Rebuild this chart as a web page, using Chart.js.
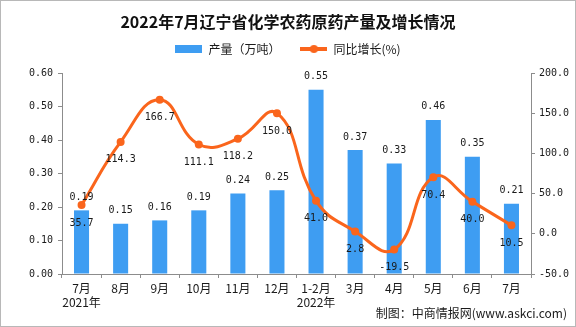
<!DOCTYPE html>
<html><head><meta charset="utf-8">
<script src="https://cdn.jsdelivr.net/npm/chart.js@4/dist/chart.umd.min.js"></script>
<style>html,body{margin:0;padding:0;background:#fff}#wrap{width:576px;height:327px;position:relative}</style>
</head><body><div id="wrap"><canvas id="c"></canvas></div>
<script>
const categories = [["7月","2021年"],"8月","9月","10月","11月","12月",["1-2月","2022年"],"3月","4月","5月","6月","7月"];
const production = [0.19,0.15,0.16,0.19,0.24,0.25,0.55,0.37,0.33,0.46,0.35,0.21];
const growth = [35.7,114.3,166.7,111.1,118.2,150.0,41.0,2.8,-19.5,70.4,40.0,10.5];
const seriesNames = ["产量（万吨）","同比增长(%)"];
const titleText = "2022年7月辽宁省化学农药原药产量及增长情况";
const footerText = "制图：中商情报网(www.askci.com)";

const BAR = '#3E9DF2', LINE = '#FA651C', AXIS = '#8c8c8c', TXT = '#1a1a1a';
const NUMFONT = '"DejaVu Sans Mono"';
const CJK = '"Noto Sans CJK SC"';

function makeIcon(kind){
  const c = document.createElement('canvas');
  c.width = 27; c.height = kind === 'bar' ? 8 : 10;
  const x = c.getContext('2d');
  if (kind === 'bar') { x.fillStyle = BAR; x.fillRect(0,0,27,8); }
  else {
    x.strokeStyle = LINE; x.lineWidth = 4; x.beginPath(); x.moveTo(0,5); x.lineTo(27,5); x.stroke();
    x.fillStyle = LINE; x.beginPath(); x.arc(13.5,5,4,0,Math.PI*2); x.fill();
  }
  return c;
}
const barIcon = makeIcon('bar'), lineIcon = makeIcon('line');

const labelPlugin = {
  id: 'labels',
  afterDatasetsDraw(chart){
    const ctx = chart.ctx;
    ctx.save();
    ctx.font = '10px ' + NUMFONT;
    ctx.fillStyle = TXT;
    ctx.textAlign = 'center';
    ctx.textBaseline = 'middle';
    chart.getDatasetMeta(0).data.forEach((el,i)=>{
      ctx.fillText(production[i].toFixed(2), el.x, el.y - 13);
    });
    chart.getDatasetMeta(1).data.forEach((el,i)=>{
      ctx.fillText(growth[i].toFixed(1), el.x, el.y + 18);
    });
    ctx.restore();
  }
};
const framePlugin = {
  id: 'frame',
  beforeDraw(chart){
    const ctx = chart.ctx; ctx.save(); ctx.fillStyle = '#fff'; ctx.fillRect(0,0,chart.width,chart.height); ctx.restore();
  },
  afterDraw(chart){
    const ctx = chart.ctx; ctx.save();
    ctx.strokeStyle = '#b8b8b8'; ctx.lineWidth = 1;
    ctx.strokeRect(0.5,0.5,chart.width-1,chart.height-1);
    ctx.font = '12px ' + CJK; ctx.fillStyle = TXT; ctx.textAlign = 'right'; ctx.textBaseline = 'middle';
    ctx.fillText(footerText, 567, 313);
    ctx.restore();
  }
};

new Chart(document.getElementById('c'), {
  type: 'bar',
  data: {
    labels: categories,
    datasets: [
      { type:'bar', label: seriesNames[0], data: production, backgroundColor: BAR, yAxisID:'y', order:1,
        barPercentage:0.385, categoryPercentage:1 },
      { type:'line', label: seriesNames[1], data: growth, borderColor: LINE, backgroundColor: LINE, borderWidth:3,
        pointRadius:4, pointBackgroundColor: LINE, pointBorderWidth:0, tension:0.45, yAxisID:'y1', order:0 }
    ]
  },
  plugins: [labelPlugin, framePlugin],
  options: {
    responsive:true, maintainAspectRatio:false, devicePixelRatio:1, animation:false,
    layout:{ padding:{left:0,right:0,top:0,bottom:0} },
    plugins:{
      tooltip:{enabled:false},
      title:{ display:true, text:titleText, color:'#111', font:{family:CJK, size:16, weight:'bold', lineHeight:0.125}, padding:{top:21,bottom:0} },
      subtitle:{ display:true, text:'', weight:500, font:{size:1, lineHeight:1}, padding:{top:0,bottom:7} },
      legend:{ display:true, position:'top',
        labels:{ usePointStyle:true, pointStyleWidth:27, boxHeight:8, padding:20, color:TXT,
          font:{family:CJK, size:12},
          sort:(a,b)=>a.datasetIndex-b.datasetIndex,
          generateLabels(chart){
            const items = Chart.defaults.plugins.legend.labels.generateLabels(chart);
            items.forEach(it=>{ it.pointStyle = it.datasetIndex === 0 ? barIcon : lineIcon; });
            return items;
          } } }
    },
    scales:{
      x:{ grid:{display:true, drawOnChartArea:false, drawTicks:true, tickLength:4, color:AXIS},
          border:{color:AXIS},
          ticks:{font:{family:CJK, size:12}, color:TXT, padding:3, maxRotation:0, autoSkip:false},
          afterFit(s){ s.height = 53; } },
      y:{ position:'left', min:0, max:0.6,
          ticks:{stepSize:0.1, callback:v=>Number(v).toFixed(2), font:{family:NUMFONT, size:10}, color:TXT, padding:5},
          grid:{drawOnChartArea:false, tickLength:4, color:AXIS}, border:{color:AXIS},
          afterFit(s){ s.width = 62; } },
      y1:{ position:'right', min:-50, max:200,
          ticks:{stepSize:50, callback:v=>Number(v).toFixed(1), font:{family:NUMFONT, size:10}, color:TXT, padding:4},
          grid:{drawOnChartArea:false, tickLength:4, color:AXIS}, border:{color:AXIS},
          afterFit(s){ s.width = 45; } }
    }
  }
});
</script></body></html>
